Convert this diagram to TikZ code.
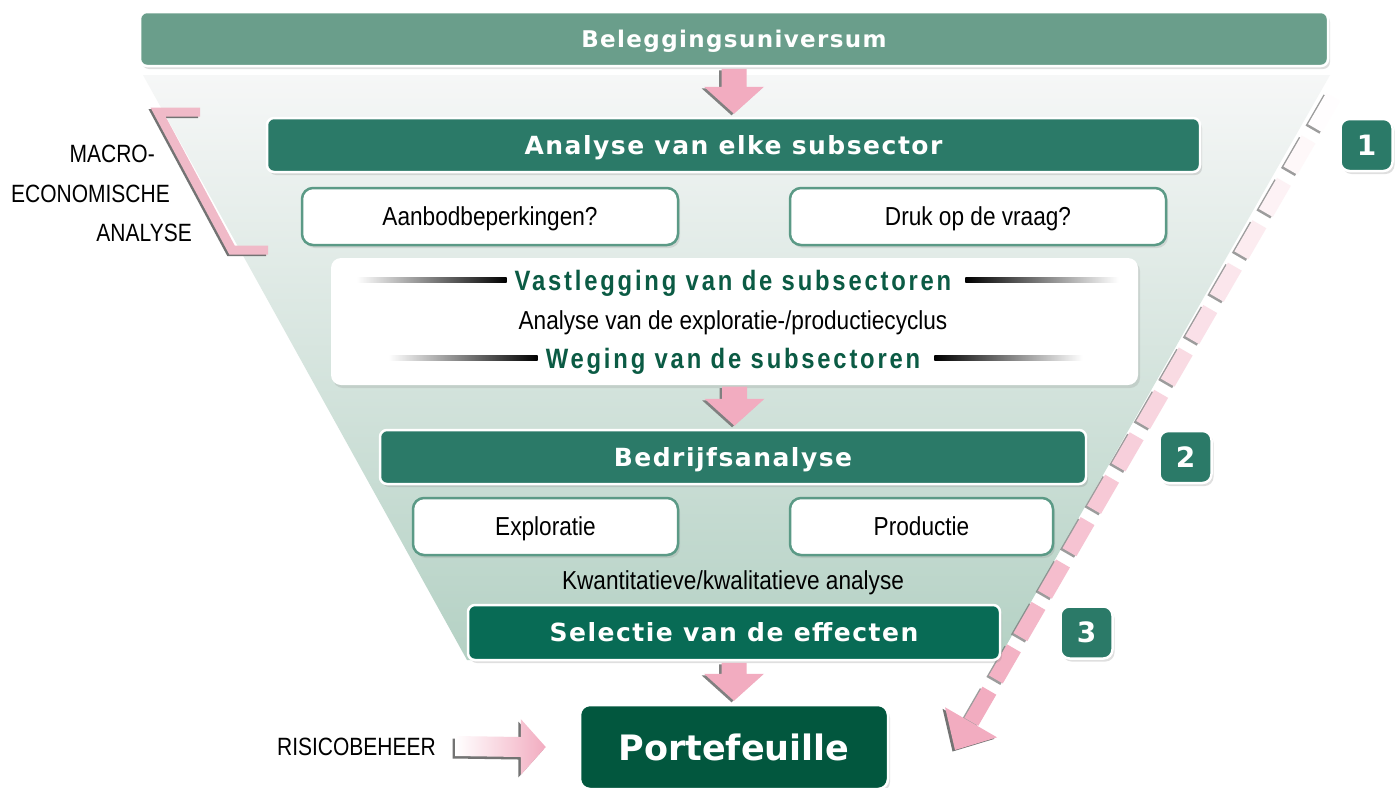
\documentclass[tikz,border=0pt]{standalone}
\usepackage{fontspec}
\setmainfont{Liberation Sans}
\newfontfamily\headfont{DejaVu Sans}[LetterSpace=6]
\newfontfamily\bigfont{DejaVu Sans}
\newfontfamily\condfont{Liberation Sans}[FakeStretch=0.87]
\newfontfamily\capfont{Liberation Sans}[FakeStretch=0.84]
\newfontfamily\greenfont{Liberation Sans}[FakeStretch=0.85,LetterSpace=10]
\usetikzlibrary{arrows.meta,positioning,calc,shadows}

\definecolor{univgreen}{RGB}{106,158,139}
\definecolor{midgreen}{RGB}{43,122,104}
\definecolor{selgreen}{RGB}{8,107,85}
\definecolor{portgreen}{RGB}{2,87,62}
\definecolor{txtgreen}{RGB}{11,91,68}
\definecolor{boxedge}{RGB}{91,154,134}
\definecolor{pinkA}{RGB}{242,172,192}
\definecolor{pinkB}{RGB}{240,186,200}
\definecolor{funtop}{RGB}{246,247,247}
\definecolor{funbot}{RGB}{180,209,196}

% block arrow pointing down, from the bottom of #1 to the top of #2
\newcommand{\arrowpath}[2]{($(#1.south)+(-12.5,1.5)$) -- ($(#1.south)+(12.5,1.5)$)
  -- ($(#1.south |- #2.north)+(12.5,-30)$) -- ($(#1.south |- #2.north)+(30,-30)$)
  -- ($(#1.south |- #2.north)+(0,-3)$) -- ($(#1.south |- #2.north)+(-30,-30)$)
  -- ($(#1.south |- #2.north)+(-12.5,-30)$) -- cycle}
\newcommand{\pinkdown}[2]{%
  \fill[black!50,transform canvas={xshift=-2.5pt,yshift=-1.5pt}] \arrowpath{#1}{#2};
  \fill[pinkA] \arrowpath{#1}{#2};}

\begin{document}
\begin{tikzpicture}[x=1pt,y=-1pt,>=latex]
\tikzstyle{bar}=[rounded corners=7pt,draw=white,line width=2.5pt,inner sep=0pt,text=white,
  font=\headfont\bfseries\fontsize{25}{30}\selectfont,text height=18pt,text depth=0pt,
  drop shadow={shadow xshift=2pt,shadow yshift=-3pt,opacity=.25}]
\tikzstyle{qbox}=[rounded corners=11pt,draw=boxedge,line width=2.5pt,fill=white,inner sep=0pt,
  minimum height=57pt,font=\condfont\fontsize{26}{30}\selectfont,text height=18pt,text depth=0pt,
  drop shadow={shadow xshift=2pt,shadow yshift=-3pt,opacity=.2}]
\tikzstyle{panel}=[rounded corners=10pt,fill=white,minimum width=807pt,minimum height=127pt,
  drop shadow={shadow xshift=2pt,shadow yshift=-3pt,opacity=.2}]
\tikzstyle{num}=[bar,fill=midgreen,minimum size=52pt,rounded corners=9pt,
  font=\bigfont\bfseries\fontsize{28}{30}\selectfont,text height=20pt]
\tikzstyle{plain}=[inner sep=0pt,font=\condfont\fontsize{26}{30}\selectfont,text height=18pt,text depth=0pt]
\tikzstyle{caplbl}=[inner sep=0pt,font=\capfont\fontsize{25}{28}\selectfont,text height=18pt,text depth=0pt]
\tikzstyle{sub}=[inner sep=0pt,text=txtgreen,font=\greenfont\bfseries\fontsize{28}{30}\selectfont,
  text height=20pt,text depth=0pt]

\useasboundingbox (0,0) rectangle (1399,787);
\fill[white] (0,0) rectangle (1399,787);

% funnel
\shade[top color=funtop,bottom color=funbot] (143,75) -- (1330,75) -- (998,660) -- (467,660) -- cycle;

% bracket
\draw[line width=9pt,black!55,transform canvas={xshift=-2pt,yshift=-1.5pt}]
  (200,112) -- (158,112) -- (232,250) -- (268,250);
\draw[line width=9pt,pinkB] (200,112) -- (158,112) -- (232,250) -- (268,250);

% dashed arrow 1-2-3
\coordinate (dA) at (1333,97);
\coordinate (dtip) at (955,750);
\coordinate (dB) at ($(dtip)!32pt!(dA)$);
\foreach \j in {0,...,14}{
  \pgfmathsetmacro\e{722-49*\j}
  \pgfmathsetmacro\s{\e-36}
  \pgfmathtruncatemacro\p{100-7*\j}
  \draw[line width=16pt,black!55,opacity=.7,transform canvas={xshift=-2.5pt,yshift=-1.5pt}]
    ($(dA)!\s pt!(dB)$) -- ($(dA)!\e pt!(dB)$);
  \draw[line width=16pt,pinkA!\p!white] ($(dA)!\s pt!(dB)$) -- ($(dA)!\e pt!(dB)$);
}
\fill[black!55,transform canvas={xshift=-2.5pt,yshift=-1.5pt}] ($(dB)!8pt!90:(dtip)$) -- ($(dB)!30pt!90:(dtip)$)
  -- (dtip) -- ($(dB)!30pt!-90:(dtip)$) -- ($(dB)!8pt!-90:(dtip)$) -- cycle;
\fill[pinkA] ($(dB)!8pt!90:(dtip)$) -- ($(dB)!30pt!90:(dtip)$)
  -- (dtip) -- ($(dB)!30pt!-90:(dtip)$) -- ($(dB)!8pt!-90:(dtip)$) -- cycle;

% boxes
\node[bar,fill=univgreen,minimum width=1188pt,minimum height=54pt,
  font=\headfont\bfseries\fontsize{23}{28}\selectfont,text height=17pt] (univ) at (734,39) {Beleggingsuniversum};
\node[bar,fill=midgreen,minimum width=933pt,minimum height=54pt] (ana) at (733.5,145) {Analyse van elke subsector};
\node[qbox,minimum width=376pt] (aanbod) at (490,216.5) {Aanbodbeperkingen?};
\node[qbox,minimum width=376pt] (vraag) at (978,216.5) {Druk op de vraag?};
\node[panel] (pan) at (734.5,321.5) {};
\node[sub] (vast) at (733,280) {Vastlegging van de subsectoren};
\node[plain] (cyc) at (733,320) {Analyse van de exploratie-/productiecyclus};
\node[sub] (weg) at (733,358) {Weging van de subsectoren};
\shade[left color=white,right color=black] ($(vast.west)+(-158,-2.5)$) rectangle ($(vast.west)+(-8,2.5)$);
\shade[left color=black,right color=white] ($(vast.east)+(14,-2.5)$) rectangle ($(vast.east)+(167,2.5)$);
\shade[left color=white,right color=black] ($(weg.west)+(-157,-2.5)$) rectangle ($(weg.west)+(-8,2.5)$);
\shade[left color=black,right color=white] ($(weg.east)+(14,-2.5)$) rectangle ($(weg.east)+(162,2.5)$);
\node[bar,fill=midgreen,minimum width=706pt,minimum height=54pt] (bedr) at (733,457) {Bedrijfsanalyse};
\node[qbox,minimum width=265pt] (expl) at (545.5,526.5) {Exploratie};
\node[qbox,minimum width=263pt] (prod) at (921.5,526.5) {Productie};
\node[plain] (kwan) at (733,580) {Kwantitatieve/kwalitatieve analyse};
\node[bar,fill=selgreen,minimum width=532pt,minimum height=55pt] (sel) at (734,632.5) {Selectie van de effecten};
\node[bar,fill=portgreen,minimum width=308pt,minimum height=84pt,rounded corners=10pt,
  font=\bigfont\bfseries\fontsize{35}{40}\selectfont,text height=26pt] (port) at (734,747) {Portefeuille};
\node[num,right=138pt of ana] (n1) {1};
\node[num,right=71pt of bedr] (n2) {2};
\node[num,right=58pt of sel] (n3) {3};

% labels
\node[caplbl,anchor=east] (mac1) at (155,153) {MACRO-};
\node[caplbl,anchor=east] (mac2) at (170,193) {ECONOMISCHE};
\node[caplbl,anchor=east] (mac3) at (192,232) {ANALYSE};
\node[caplbl,anchor=east] (risk) at (436,746) {RISICOBEHEER};

% arrows
\pinkdown{univ}{ana}
\pinkdown{pan}{bedr}
\pinkdown{sel}{port}
\coordinate[right=19pt of risk] (rA);
\coordinate[left=33pt of port] (rB);
\fill[black!55,transform canvas={xshift=-2.5pt,yshift=-2.5pt}] ($(rA)+(0,-10)$) -- ($(rB)+(-25,-10)$)
  -- ($(rB)+(-25,-28)$) -- (rB) -- ($(rB)+(-25,28)$) -- ($(rB)+(-25,10)$) -- ($(rA)+(0,10)$) -- cycle;
\shade[left color=white,right color=pinkA] ($(rA)+(0,-10)$) -- ($(rB)+(-25,-10)$)
  -- ($(rB)+(-25,-28)$) -- (rB) -- ($(rB)+(-25,28)$) -- ($(rB)+(-25,10)$) -- ($(rA)+(0,10)$) -- cycle;
\end{tikzpicture}
\end{document}
